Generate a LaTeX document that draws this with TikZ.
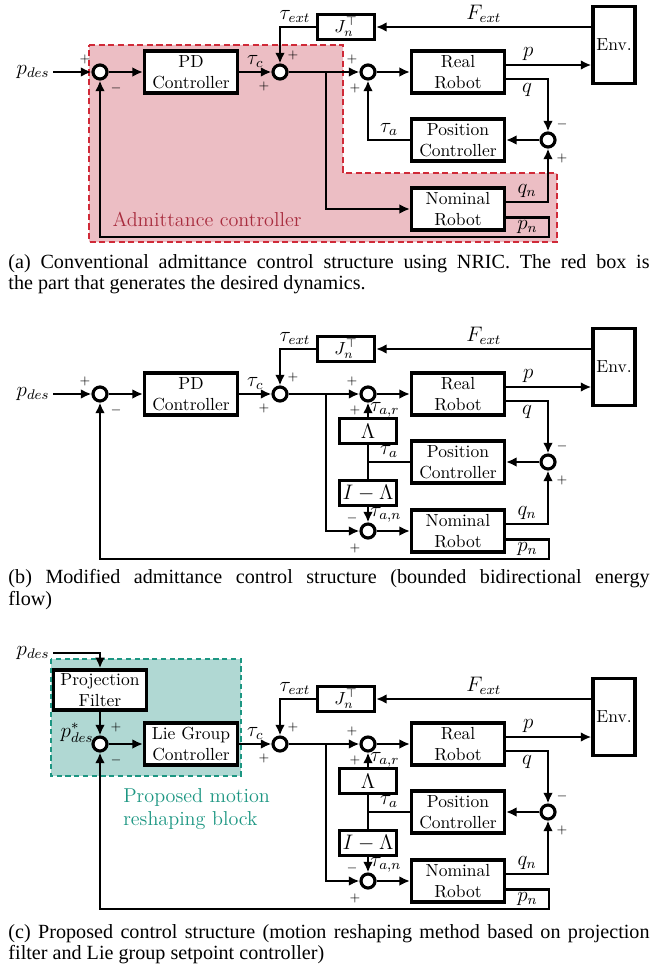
\documentclass[tikz,border=0pt]{standalone}
\usepackage{fontspec}
\newfontfamily\legendafont{Liberation Serif}
\usetikzlibrary{arrows.meta}
\definecolor{rosa}{RGB}{236,190,196}
\definecolor{vermelho}{RGB}{208,42,56}
\definecolor{vinho}{RGB}{168,44,62}
\definecolor{verdeagua}{RGB}{176,216,211}
\definecolor{verde}{RGB}{28,150,130}

\begin{document}
\begin{tikzpicture}[x=0.5714pt,y=-0.5714pt,line width=1.7pt,
  bloco/.style={draw,fill=white,rectangle,align=center,line width=1.9pt,inner sep=1pt,minimum width=53pt,minimum height=24pt},
  blocopeq/.style={draw,fill=white,rectangle,align=center,line width=1.9pt,inner sep=1pt,minimum width=32.5pt,minimum height=14pt},
  ambiente/.style={draw,fill=white,line width=1.9pt,inner sep=1pt,minimum width=24pt,minimum height=44pt},
  soma/.style={draw,circle,fill=white,line width=1.8pt,minimum size=8pt,inner sep=0pt},
  sinal/.style={-{Latex[length=6pt,width=5.5pt]}},
  rotulo/.style={inner sep=1.5pt,font=\large},
  marca/.style={font=\scriptsize,inner sep=0pt},
  legenda/.style={anchor=north west,inner sep=0pt,text width=366.3pt,align=justify,
    font=\legendafont\fontsize{11.5}{12.3}\selectfont}]
  \useasboundingbox (0,0) rectangle (654,973);
  % regioes de fundo
  \draw[vermelho,fill=rosa,dash pattern=on 3.5pt off 2pt,line width=1.5pt]
    (89,45) -- (343,45) -- (343,173) -- (557,173) -- (557,242) -- (89,242) -- cycle;
  \node[text=vinho,font=\fontsize{11.5}{13}\selectfont] (adm) at (207,219) {Admittance controller};
  \draw[verde,fill=verdeagua,dash pattern=on 3pt off 2pt,line width=1.2pt] (51,659) rectangle (241,776);
  \node[text=verde,anchor=north west,align=left,font=\fontsize{11.5}{13.2}\selectfont] (prop) at (116,781)
    {Proposed motion\\reshaping block};
  % parte comum dos tres diagramas
  \foreach \n/\y/\ctrl in {a/0/PD,b/322/PD,c/672/Lie Group}{
    \node[soma] (s1\n) at (100,72+\y) {};
    \node[bloco] (k\n) at (191,72+\y) {\ctrl\\Controller};
    \node[soma] (s2\n) at (280,72+\y) {};
    \node[blocopeq] (j\n) at (346,27+\y) {$J_n^\top$};
    \node[ambiente] (env\n) at (614,45+\y) {Env.};
    \node[soma] (s3\n) at (368,72+\y) {};
    \node[bloco] (rr\n) at (458,72+\y) {Real\\Robot};
    \node[bloco] (pc\n) at (458,140+\y) {Position\\Controller};
    \node[soma] (s4\n) at (548,140+\y) {};
    \node[bloco] (nr\n) at (458,209+\y) {Nominal\\Robot};
    \coordinate (ram\n) at (326,72+\y);
    \coordinate (po\n) at ([yshift=4pt]rr\n.east);
    \coordinate (qo\n) at ([yshift=-4pt]rr\n.east);
    \coordinate (qn\n) at ([yshift=4pt]nr\n.east);
    \coordinate (pn\n) at ([yshift=-4.6pt]nr\n.east);
    \draw[sinal] (s1\n) -- (k\n);
    \draw[sinal] (k\n) -- node[rotulo,above]{$\tau_c$} (s2\n);
    \draw[sinal] (env\n.west |- j\n) -- node[rotulo,above]{$F_{ext}$} (j\n);
    \draw[sinal] (j\n) -| node[rotulo,anchor=south west,xshift=-2.5pt]{$\tau_{ext}$} (s2\n);
    \draw[sinal] (s2\n) -- (s3\n);
    \draw[sinal] (s3\n) -- (rr\n);
    \draw[sinal] (po\n) -- node[rotulo,above,pos=.26]{$p$} (po\n -| env\n.west);
    \draw[sinal] (qo\n) -| node[rotulo,below,pos=.25]{$q$} (s4\n);
    \draw[sinal] (s4\n) -- (pc\n);
    \draw[sinal] (qn\n) -| node[rotulo,above,pos=.25]{$q_n$} (s4\n);
    \draw[sinal] (pn\n) -| node[rotulo,below,pos=.25,inner sep=1pt]{$p_n$} (549,237+\y) -| (s1\n);
    \node[marca] (m1b\n) at (116,88+\y) {$-$};
    \node[marca] (m2a\n) at (293,55+\y) {$+$};
    \node[marca] (m2b\n) at (264,86+\y) {$+$};
    \node[marca] (m3a\n) at (352,59+\y) {$+$};
    \node[marca] (m3b\n) at (355,88+\y) {$+$};
    \node[marca] (m4a\n) at (562,124+\y) {$-$};
    \node[marca] (m4b\n) at (562,158+\y) {$+$};
  }
  % (a)
  \node[rotulo] (pda) at (33,72) {$p_{des}$};
  \draw[sinal] (pda) -- (s1a);
  \node[marca] (m1aa) at (85,59) {$+$};
  \draw[sinal] (pca) -| node[rotulo,above,pos=.25]{$\tau_a$} (s3a);
  \draw[sinal] (rama) |- (nra);
  % (b)
  \node[rotulo] (pdb) at (33,394) {$p_{des}$};
  \draw[sinal] (pdb) -- (s1b);
  \node[marca] (m1ab) at (85,381) {$+$};
  % (b) e (c): divisao de tau_a
  \foreach \n/\y in {b/322,c/672}{
    \node[blocopeq,font=\large] (lam\n) at (368,109+\y) {$\Lambda$};
    \node[blocopeq,font=\large] (il\n) at (368,171+\y) {$I-\Lambda$};
    \node[soma] (s5\n) at (368,209+\y) {};
    \coordinate (ja\n) at (368,140+\y);
    \draw (pc\n) -- node[rotulo,above]{$\tau_a$} (ja\n);
    \draw (lam\n) -- (il\n);
    \draw[sinal] (lam\n) -- node[rotulo,right,inner sep=.5pt]{$\tau_{a,r}$} (s3\n);
    \draw[sinal] (il\n) -- node[rotulo,right,inner sep=.5pt]{$\tau_{a,n}$} (s5\n);
    \draw[sinal] (ram\n) |- (s5\n);
    \draw[sinal] (s5\n) -- (nr\n);
    \node[marca] (m5a\n) at (352,196+\y) {$-$};
    \node[marca] (m5b\n) at (355,226+\y) {$+$};
  }
  % (c)
  \node[rotulo] (pdc) at (33,653) {$p_{des}$};
  \node[bloco,minimum height=23pt] (pf) at (100,690) {Projection\\Filter};
  \draw[sinal] (pdc) -| (pf);
  \draw[sinal] (pf) -- (s1c);
  \node[rotulo] (pdsc) at (77,733) {$p^*_{des}$};
  \node[marca] (m1ac) at (116,727) {$+$};
  % legendas
  \node[legenda] (lega) at (7,253) {(a) Conventional admittance control structure using NRIC. The red box is\linebreak the part that generates the desired dynamics.};
  \node[legenda] (legb) at (7,568) {(b) Modified admittance control structure (bounded bidirectional energy\linebreak flow)};
  \node[legenda] (legc) at (7,923) {(c) Proposed control structure (motion reshaping method based on projection\linebreak filter and Lie group setpoint controller)};
\end{tikzpicture}
\end{document}
